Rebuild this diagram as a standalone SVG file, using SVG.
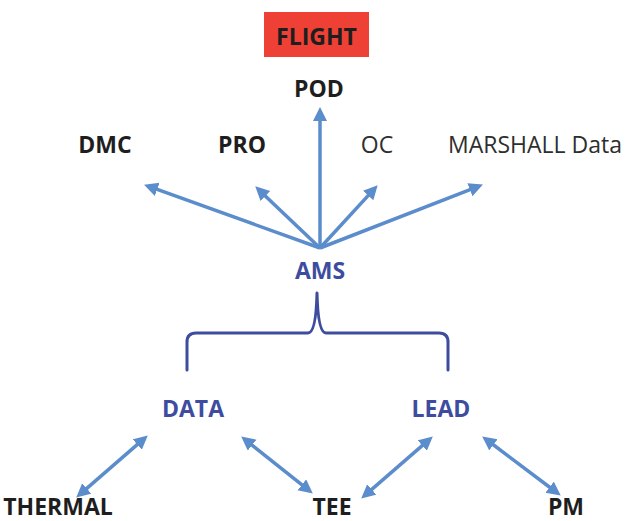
<svg xmlns="http://www.w3.org/2000/svg" width="626" height="521" viewBox="0 0 626 521">
<style>
.lbl{font-family:"Open Sans","Liberation Sans",sans-serif;font-size:23px;text-anchor:middle;fill:#1e1e1e}
.b{font-weight:bold}
.blue{fill:#3e4c9f;font-weight:bold}
.reg{fill:#2e2e2e;font-weight:normal}
.arr{stroke:#5b8ccb;stroke-width:3.5;fill:none;marker-end:url(#ah)}
.dbl{marker-start:url(#ah)}
.brace{stroke:#3e4c9f;stroke-width:3;fill:none;stroke-linejoin:round;stroke-linecap:round}
</style>
<defs>
<marker id="ah" markerUnits="userSpaceOnUse" markerWidth="16" markerHeight="16" refX="3" refY="7" orient="auto-start-reverse">
<path d="M0,0 L14,7 L0,14 z" fill="#5b8ccb"/>
</marker>
</defs>
<g id="flight">
<rect x="264" y="12" width="105" height="45" fill="#ef4035"/>
<text class="lbl b" x="316.5" y="45">FLIGHT</text>
</g>
<g id="pod"><text class="lbl b" x="319" y="97">POD</text></g>
<g id="dmc"><text class="lbl b" x="105" y="153">DMC</text></g>
<g id="pro"><text class="lbl b" x="242" y="153">PRO</text></g>
<g id="oc"><text class="lbl reg" x="377" y="153">OC</text></g>
<g id="marshall"><text class="lbl reg" x="535" y="153">MARSHALL Data</text></g>
<g id="ams"><text class="lbl blue" x="320" y="279">AMS</text></g>
<g id="data"><text class="lbl blue" x="193" y="417">DATA</text></g>
<g id="lead"><text class="lbl blue" x="441" y="417">LEAD</text></g>
<g id="thermal"><text class="lbl b" x="58" y="515">THERMAL</text></g>
<g id="tee"><text class="lbl b" x="332" y="515">TEE</text></g>
<g id="pm"><text class="lbl b" x="566" y="515">PM</text></g>
<g id="connectors">
<line class="arr" x1="320" y1="248" x2="154.4" y2="188.4"/>
<line class="arr" x1="320" y1="248" x2="263.2" y2="193.9"/>
<line class="arr" x1="320" y1="248" x2="320" y2="118"/>
<line class="arr" x1="320" y1="248" x2="370.2" y2="193.4"/>
<line class="arr" x1="320" y1="248" x2="472.7" y2="188.6"/>
<path class="brace" d="M187,370 L187,342 Q187,333 196,333 L308,333 Q316,333 317,293 Q318,333 326,333 L439,333 Q448,333 448,342 L448,370"/>
<line class="arr dbl" x1="84.5" y1="490.4" x2="139.5" y2="442.6"/>
<line class="arr dbl" x1="249.8" y1="443.3" x2="304.2" y2="486.7"/>
<line class="arr dbl" x1="369.5" y1="491.4" x2="424.5" y2="443.6"/>
<line class="arr dbl" x1="491" y1="443" x2="552" y2="489"/>
</g>
</svg>
